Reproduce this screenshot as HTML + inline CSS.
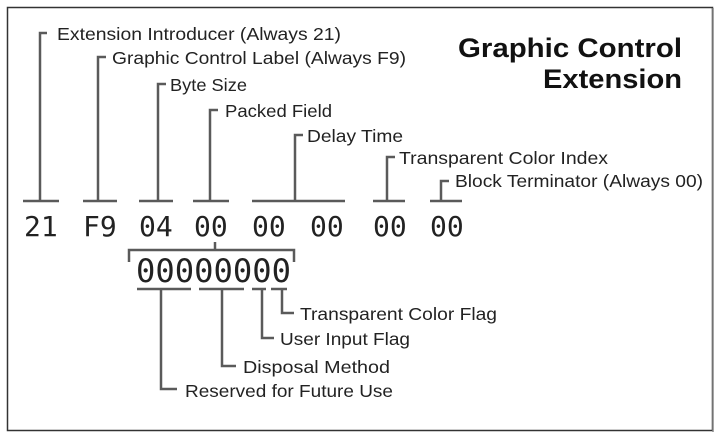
<!DOCTYPE html>
<html><head><meta charset="utf-8"><style>
body{margin:0;background:#fff;}
svg{display:block}
.t{font-family:"Liberation Sans",sans-serif;font-size:17.5px;fill:#222}
.m{font-family:"DejaVu Sans Mono",monospace;fill:#222}
</style></head><body>
<svg width="721" height="436" viewBox="0 0 721 436" xmlns="http://www.w3.org/2000/svg">
<rect x="7.5" y="7.5" width="705" height="423" fill="#fff" stroke="#333" stroke-width="1.5"/>
<line x1="713" y1="8" x2="713" y2="432" stroke="#888" stroke-width="1.5"/>
<g stroke="#5a5a5a" stroke-width="2.5" fill="none">
<line x1="23" y1="201" x2="59" y2="201"/>
<line x1="83" y1="201" x2="117" y2="201"/>
<line x1="139" y1="201" x2="173" y2="201"/>
<line x1="193" y1="201" x2="229" y2="201"/>
<line x1="252" y1="201" x2="345" y2="201"/>
<line x1="373" y1="201" x2="405" y2="201"/>
<line x1="430" y1="201" x2="462" y2="201"/>
<polyline points="40,201 40,33 47,33"/>
<polyline points="98,201 98,57 106,57"/>
<polyline points="158,201 158,84 166,84"/>
<polyline points="210,201 210,110 218,110"/>
<polyline points="295,201 295,135 303,135"/>
<polyline points="387,201 387,157 395,157"/>
<polyline points="441,201 441,181 449,181"/>
<line x1="215" y1="242" x2="215" y2="250"/>
<polyline points="129,262 129,250 294,250 294,262"/>
<line x1="137" y1="289" x2="191" y2="289"/>
<line x1="199" y1="289" x2="244" y2="289"/>
<line x1="252" y1="289" x2="266" y2="289"/>
<line x1="271" y1="289" x2="287" y2="289"/>
<polyline points="161,289 161,389 177,389"/>
<polyline points="222,289 222,366 236,366"/>
<polyline points="262,289 262,338 274,338"/>
<polyline points="282,289 282,313 294,313"/>
</g>
<text class="t" x="57" y="40" textLength="284" lengthAdjust="spacingAndGlyphs">Extension Introducer (Always 21)</text>
<text class="t" x="112" y="64" textLength="294" lengthAdjust="spacingAndGlyphs">Graphic Control Label (Always F9)</text>
<text class="t" x="170" y="91" textLength="77" lengthAdjust="spacingAndGlyphs">Byte Size</text>
<text class="t" x="225" y="117" textLength="107" lengthAdjust="spacingAndGlyphs">Packed Field</text>
<text class="t" x="307" y="142" textLength="96" lengthAdjust="spacingAndGlyphs">Delay Time</text>
<text class="t" x="399" y="164" textLength="209" lengthAdjust="spacingAndGlyphs">Transparent Color Index</text>
<text class="t" x="455" y="187" textLength="248" lengthAdjust="spacingAndGlyphs">Block Terminator (Always 00)</text>
<text class="t" x="300" y="320" textLength="197" lengthAdjust="spacingAndGlyphs">Transparent Color Flag</text>
<text class="t" x="280" y="345" textLength="130" lengthAdjust="spacingAndGlyphs">User Input Flag</text>
<text class="t" x="243" y="373" textLength="147" lengthAdjust="spacingAndGlyphs">Disposal Method</text>
<text class="t" x="185" y="397" textLength="208" lengthAdjust="spacingAndGlyphs">Reserved for Future Use</text>
<text x="458" y="57" font-family="Liberation Sans,sans-serif" font-weight="bold" font-size="27" fill="#111" textLength="224" lengthAdjust="spacingAndGlyphs">Graphic Control</text>
<text x="543" y="88" font-family="Liberation Sans,sans-serif" font-weight="bold" font-size="27" fill="#111" textLength="139" lengthAdjust="spacingAndGlyphs">Extension</text>
<g class="m" font-size="28">
<text x="24" y="236">21</text>
<text x="83" y="236">F9</text>
<text x="139" y="236">04</text>
<text x="194" y="236">00</text>
<text x="252" y="236">00</text>
<text x="310" y="236">00</text>
<text x="373" y="236">00</text>
<text x="430" y="236">00</text>
</g>
<text class="m" font-size="32" x="136" y="282" textLength="155" lengthAdjust="spacingAndGlyphs">00000000</text>
</svg>
</body></html>
